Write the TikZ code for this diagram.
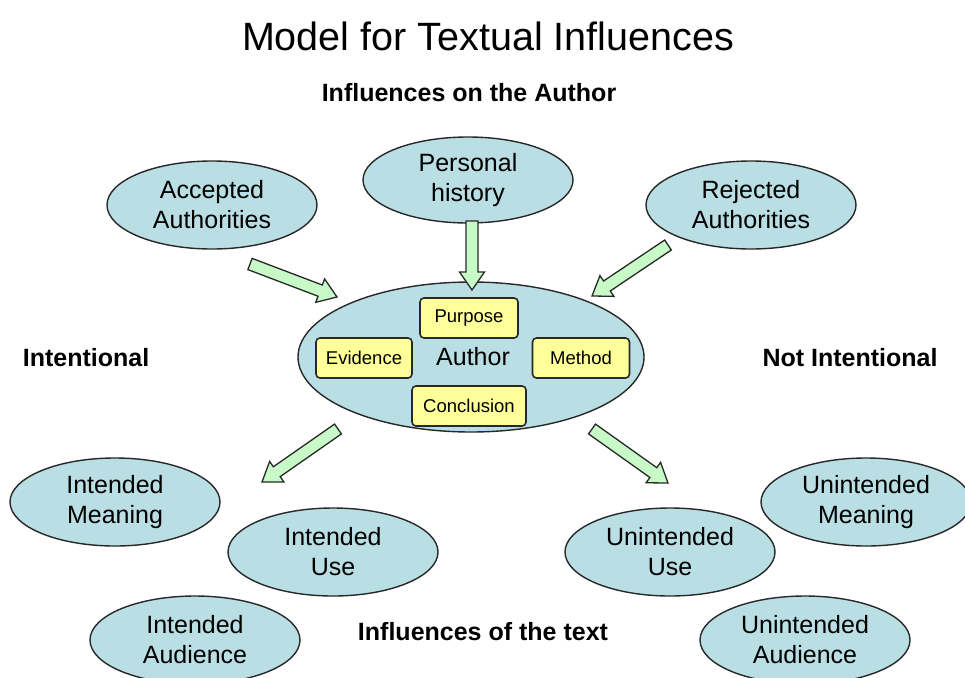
\documentclass[tikz,border=0pt]{standalone}
\usepackage{fontspec}
\setmainfont{Liberation Sans}
\usetikzlibrary{shapes.geometric,calc}

\definecolor{ovalfill}{RGB}{185,222,227}
\definecolor{notefill}{RGB}{255,255,153}
\definecolor{arrowfill}{RGB}{200,250,200}
\definecolor{edgegray}{RGB}{40,40,40}

\tikzset{
  oval/.style={ellipse, draw=edgegray, line width=1.4pt, fill=ovalfill,
    minimum width=210pt, minimum height=88pt, inner sep=0pt, align=center,
    font=\fontsize{25}{30}\selectfont},
  note/.style={draw=edgegray, line width=1.6pt, fill=notefill, rounded corners=4pt,
    minimum height=40pt, inner sep=3pt, font=\fontsize{18.5}{20}\selectfont},
  heading/.style={font=\fontsize{25}{30}\selectfont\bfseries},
  arrowstyle/.style={draw=edgegray, line width=1.3pt, fill=arrowfill, line join=miter},
}

% block arrow from #1 (tail) to #2 (tip); #3 names its helper point
\newcommand\blockarrow[3]{%
  \coordinate (#3h) at ($(#2)!18pt!(#1)$);
  \draw[arrowstyle]
    ($(#1)!6pt!90:(#2)$) -- ($(#3h)!6pt!-90:(#1)$) -- ($(#3h)!12.5pt!-90:(#1)$)
    -- (#2) -- ($(#3h)!12.5pt!90:(#1)$) -- ($(#3h)!6pt!90:(#1)$)
    -- ($(#1)!6pt!-90:(#2)$) -- cycle;
}

\begin{document}
\begin{tikzpicture}[x=1pt, y=-1pt]
  \path[use as bounding box, clip] (0,0) rectangle (965,677);
  \fill[white] (0,0) rectangle (965,677);

  % headings
  \node (title) at (488,36) {\fontsize{39.5}{44}\selectfont Model for Textual Influences};
  \node[heading] (onauthor) at (469,93) {Influences on the Author};
  \node[heading] (intl) at (86,358) {Intentional};
  \node[heading] (notintl) at (850,358) {Not Intentional};
  \node[heading] (oftext) at (483,632) {Influences of the text};

  % influences on the author
  \node[oval] (accepted) at (212,205) {Accepted\\Authorities};
  \node[oval, minimum height=86pt] (personal) at (468,180) {Personal\\history};
  \node[oval] (rejected) at (751,205) {Rejected\\Authorities};

  % the author
  \node[oval, minimum width=346pt, minimum height=150pt] (author) at (471,357) {};
  \node[font=\fontsize{25}{30}\selectfont] (authorlbl) at (473,357) {Author};
  \node[note, minimum width=98pt] (purpose) at (469,318) {Purpose};
  \node[note, minimum width=96pt] (evidence) at (364,358) {Evidence};
  \node[note, minimum width=97pt] (method) at (581,358) {Method};
  \node[note, minimum width=114pt] (conclusion) at (469,406) {Conclusion};

  % intended outcomes
  \node[oval] (imeaning) at (115,502) {Intended\\Meaning};
  \node[oval] (iuse) at (333,552) {Intended\\Use};
  \node[oval] (iaudience) at (195,640) {Intended\\Audience};

  % unintended outcomes
  \node[oval] (umeaning) at (866,502) {Unintended\\Meaning};
  \node[oval] (uuse) at (670,552) {Unintended\\Use};
  \node[oval] (uaudience) at (805,640) {Unintended\\Audience};

  % arrow end points
  \coordinate (a1t) at (250,264);
  \coordinate (a1h) at (337,297);
  \coordinate (a2t) at (472,221);
  \coordinate (a2h) at (472,290);
  \coordinate (a3t) at (668,245);
  \coordinate (a3h) at (592,296);
  \coordinate (a4t) at (338,429);
  \coordinate (a4h) at (262,482);
  \coordinate (a5t) at (592,429);
  \coordinate (a5h) at (668,483);

  \blockarrow{a1t}{a1h}{ba}
  \blockarrow{a2t}{a2h}{bb}
  \blockarrow{a3t}{a3h}{bc}
  \blockarrow{a4t}{a4h}{bd}
  \blockarrow{a5t}{a5h}{be}
\end{tikzpicture}
\end{document}
